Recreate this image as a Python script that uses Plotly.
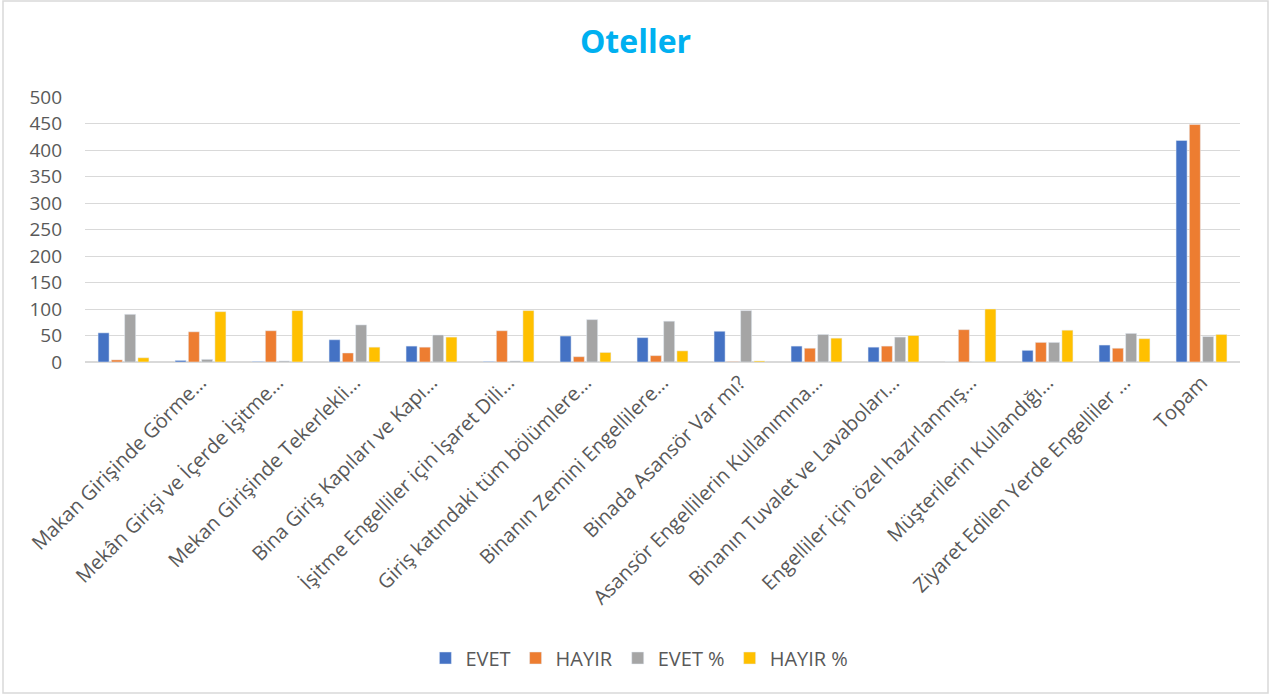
import plotly.graph_objects as go

# categories (first one has no label in the source chart)
labels = ["", "Makan Girişinde Görme…", "Mekân Girişi ve İçerde İşitme…",
          "Mekan Girişinde Tekerlekli…", "Bina Giriş Kapıları ve Kapı…",
          "İşitme Engelliler için İşaret Dili…", "Giriş katındaki tüm bölümlere…",
          "Binanın Zemini Engellilere…", "Binada Asansör Var mı?",
          "Asansör Engellilerin Kullanımına…", "Binanın Tuvalet ve Lavaboları…",
          "Engelliler için özel hazırlanmış…", "Müşterilerin Kullandığı…",
          "Ziyaret Edilen Yerde Engelliler …", "Topam"]
positions = list(range(len(labels)))

evet = [55, 3, 1, 42, 30, 1, 49, 46, 58, 30, 28, 0, 22, 32, 418]
hayir = [4, 57, 59, 17, 28, 59, 10, 12, 1, 26, 30, 61, 37, 26, 448]
evet_pct = [90, 5, 2, 70, 51, 2, 80, 77, 97, 52, 47, 0, 37, 54, 48]
hayir_pct = [8, 95, 97, 28, 47, 97, 18, 21, 2, 45, 50, 100, 60, 44, 52]

font = "Open Sans"
fig = go.Figure()
fig.add_bar(x=positions, y=evet, name="EVET", marker_color="#4472C4")
fig.add_bar(x=positions, y=hayir, name="HAYIR", marker_color="#ED7D31")
fig.add_bar(x=positions, y=evet_pct, name="EVET %", marker_color="#A5A5A5")
fig.add_bar(x=positions, y=hayir_pct, name="HAYIR %", marker_color="#FFC000")

# plot area: x 85..1240, y 97..362
L, R, T, B = 85, 1240, 97, 362
W, H = R - L, B - T

fig.update_layout(
    width=1271, height=696,
    margin=dict(l=L, r=1271 - R, t=T, b=696 - B),
    paper_bgcolor="white", plot_bgcolor="white",
    barmode="group", bargap=0.31, bargroupgap=0.17,
    font=dict(family=font, size=18, color="#595959"),
    title=dict(text="<b>Oteller</b>", x=0.5, xanchor="center", y=1 - 42 / 696,
               yanchor="middle", font=dict(family=font, size=32, color="#00B0F0")),
    legend=dict(orientation="h", x=0.48, xanchor="center", y=(B - 658) / H,
                yanchor="middle", font=dict(size=20, color="#595959"),
                itemwidth=30, traceorder="normal"),
    showlegend=True,
)
fig.update_xaxes(tickmode="array", tickvals=positions, ticktext=labels,
                 tickangle=-45, range=[-0.5, len(labels) - 0.5],
                 showline=True, linecolor="#D9D9D9", linewidth=1,
                 showgrid=False, ticks="", tickfont=dict(size=20, color="#595959"))
fig.update_yaxes(range=[0, 500], dtick=50, showgrid=True, gridcolor="#D9D9D9",
                 gridwidth=1, zeroline=True, zerolinecolor="#D9D9D9",
                 showline=False, ticks="", ticklabelstandoff=22,
                 tickfont=dict(size=19, color="#595959"))

# outer chart border
fig.add_shape(type="rect", xref="paper", yref="paper",
              x0=(3 - L) / W, x1=(1268 - L) / W,
              y0=(B - 693) / H, y1=(B - 1) / H,
              line=dict(color="#D9D9D9", width=1.5), layer="below")

fig.write_html("out.html", config={"displayModeBar": False},
               post_script="document.body.style.margin='0';")
